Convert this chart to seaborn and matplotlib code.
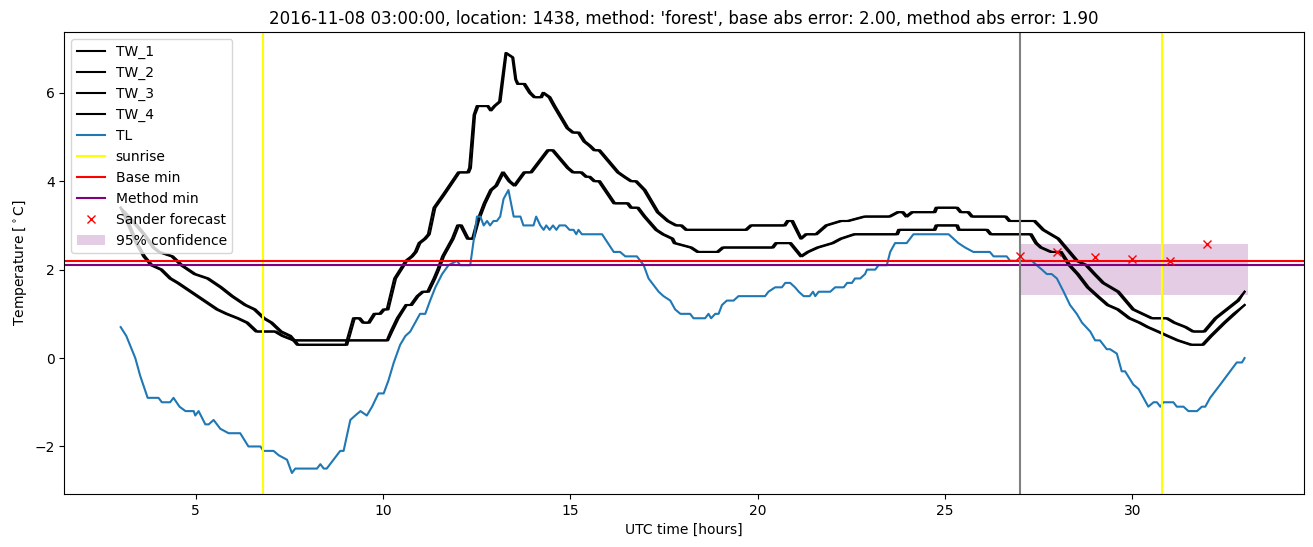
import matplotlib
matplotlib.use("Agg")
import matplotlib.pyplot as plt
import seaborn as sns

# ---------------- data ----------------
# upper pair (TW_1, TW_2)
tw_upper_v = [3.4, 3.1, 2.8, 2.5, 2.4, 2.3, 2.1, 1.9, 1.8, 1.6, 1.4, 1.2, 1.1, 0.9, 0.8, 0.6, 0.5, 0.3,
              0.3, 0.9, 0.9, 0.8, 0.8, 1.0, 1.0, 1.1, 1.1, 1.8, 2.0, 2.2, 2.3, 2.4, 2.6, 2.7, 2.8, 3.4,
              3.7, 4.2, 4.2, 4.3, 5.5, 5.7, 5.7, 5.6, 5.7, 5.8, 6.9, 6.8, 6.3, 6.2, 6.2, 6.0, 5.9, 5.9,
              6.0, 5.9, 5.7, 5.2, 5.1, 5.1, 4.9, 4.8, 4.7, 4.7, 4.2, 4.1, 4.0, 4.0, 3.8, 3.3, 3.1, 3.0,
              3.0, 2.9, 2.9, 3.0, 3.0, 3.1, 3.1, 2.7, 2.8, 2.8, 3.0, 3.1, 3.1, 3.2, 3.2, 3.3, 3.3, 3.2,
              3.3, 3.3, 3.4, 3.4, 3.3, 3.3, 3.2, 3.2, 3.1, 3.1, 2.9, 2.8, 2.7, 2.4, 2.2, 2.1, 1.9, 1.7,
              1.6, 1.5, 1.3, 1.1, 1.0, 0.9, 0.9, 0.8, 0.7, 0.6, 0.6, 0.9, 1.1, 1.3, 1.5]
tw1_t = [3.0, 3.3, 3.6, 3.85, 4.0, 4.35, 4.6, 4.95, 5.3, 5.65, 5.95, 6.3, 6.55, 6.8, 7.0, 7.25, 7.5, 7.7,
         9.0, 9.2, 9.35, 9.45, 9.6, 9.75, 9.9, 10.0, 10.1, 10.3, 10.45, 10.6, 10.75, 10.85, 10.95, 11.1, 11.2, 11.35,
         11.6, 12.0, 12.25, 12.3, 12.42, 12.5, 12.78, 12.86, 12.96, 13.1, 13.27, 13.45, 13.53, 13.58, 13.75, 13.9, 14.02, 14.2,
         14.26, 14.42, 14.55, 14.9, 15.05, 15.2, 15.35, 15.5, 15.62, 15.75, 16.25, 16.42, 16.6, 16.73, 16.96, 17.31, 17.58, 17.8,
         17.94, 18.07, 19.67, 19.8, 20.7, 20.78, 20.9, 21.14, 21.27, 21.54, 21.81, 22.2, 22.39, 22.83, 23.5, 23.72, 23.85, 23.95,
         24.1, 24.7, 24.75, 25.3, 25.4, 25.6, 25.7, 26.6, 26.7, 27.37, 27.6, 27.8, 28.0, 28.3, 28.5, 28.75, 28.97, 29.2,
         29.4, 29.6, 29.8, 30.0, 30.25, 30.5, 30.9, 31.1, 31.4, 31.6, 31.9, 32.2, 32.5, 32.8, 33.0]
tw2_t = [3.0, 3.35, 3.65, 3.9, 4.05, 4.4, 4.65, 5.0, 5.35, 5.7, 6.0, 6.35, 6.6, 6.85, 7.05, 7.3, 7.55, 7.75,
         9.05, 9.25, 9.4, 9.5, 9.65, 9.8, 9.95, 10.05, 10.15, 10.35, 10.5, 10.65, 10.8, 10.9, 11.0, 11.15, 11.25, 11.4,
         11.65, 12.05, 12.3, 12.35, 12.46, 12.55, 12.82, 12.9, 13.0, 13.14, 13.3, 13.48, 13.56, 13.62, 13.8, 13.95, 14.07, 14.25,
         14.3, 14.47, 14.6, 14.95, 15.1, 15.25, 15.4, 15.55, 15.67, 15.8, 16.3, 16.47, 16.65, 16.78, 17.01, 17.36, 17.63, 17.85,
         17.99, 18.12, 19.72, 19.85, 20.75, 20.83, 20.95, 21.18, 21.32, 21.59, 21.86, 22.25, 22.44, 22.88, 23.55, 23.77, 23.9, 24.0,
         24.15, 24.75, 24.8, 25.35, 25.45, 25.65, 25.75, 26.65, 26.75, 27.42, 27.65, 27.85, 28.05, 28.35, 28.55, 28.8, 29.02, 29.25,
         29.45, 29.65, 29.85, 30.05, 30.3, 30.55, 30.95, 31.15, 31.45, 31.65, 31.95, 32.25, 32.55, 32.85, 33.0]

# lower pair (TW_3, TW_4)
tw_lower_v = [3.4, 3.0, 2.6, 2.3, 2.1, 2.0, 1.8, 1.7, 1.5, 1.3, 1.1, 1.0, 0.9, 0.8, 0.6, 0.6, 0.5, 0.4,
              0.4, 0.6, 0.9, 1.2, 1.2, 1.4, 1.5, 1.5, 1.8, 2.0, 2.3, 2.5, 2.7, 3.0, 3.0, 2.7, 2.7, 3.1,
              3.5, 3.8, 3.9, 4.2, 4.0, 3.9, 4.2, 4.2, 4.7, 4.7, 4.3, 4.2, 4.2, 4.1, 4.1, 4.0, 4.0, 3.5,
              3.5, 3.4, 3.4, 3.2, 2.9, 2.8, 2.7, 2.6, 2.5, 2.4, 2.4, 2.5, 2.5, 2.6, 2.6, 2.3, 2.4, 2.5,
              2.6, 2.7, 2.8, 2.8, 2.9, 2.9, 3.0, 3.0, 2.9, 2.9, 2.8, 2.8, 2.6, 2.5, 2.4, 2.4, 2.1, 1.9,
              1.6, 1.4, 1.2, 1.1, 0.9, 0.8, 0.7, 0.6, 0.5, 0.4, 0.3, 0.3, 0.5, 0.8, 1.0, 1.2]
tw3_t = [3.0, 3.2, 3.4, 3.6, 3.8, 4.06, 4.3, 4.5, 4.85, 5.2, 5.55, 5.8, 6.1, 6.35, 6.6, 7.1, 7.3, 7.6,
         10.1, 10.2, 10.37, 10.6, 10.73, 10.9, 11.04, 11.18, 11.35, 11.45, 11.58, 11.71, 11.84, 11.98, 12.06, 12.24, 12.38, 12.51,
         12.69, 12.86, 13.0, 13.18, 13.35, 13.49, 13.75, 13.93, 14.38, 14.51, 14.91, 15.05, 15.27, 15.4, 15.49, 15.62, 15.75, 16.15,
         16.51, 16.6, 16.78, 16.96, 17.27, 17.45, 17.7, 17.76, 18.2, 18.38, 18.91, 19.05, 20.38, 20.47, 20.85, 21.14, 21.32, 21.58,
         21.98, 22.2, 22.56, 23.7, 23.75, 24.7, 24.75, 25.3, 25.35, 26.1, 26.2, 27.27, 27.41, 27.54, 27.81, 28.07, 28.3, 28.52,
         28.79, 29.05, 29.32, 29.59, 29.9, 30.17, 30.39, 30.66, 30.92, 31.19, 31.55, 31.86, 32.08, 32.44, 32.7, 33.0]
tw4_t = [3.0, 3.25, 3.45, 3.65, 3.85, 4.11, 4.35, 4.55, 4.9, 5.25, 5.6, 5.85, 6.15, 6.4, 6.65, 7.15, 7.35, 7.65,
         10.14, 10.25, 10.42, 10.64, 10.78, 10.95, 11.09, 11.23, 11.4, 11.5, 11.63, 11.76, 11.89, 12.03, 12.11, 12.29, 12.43, 12.56,
         12.74, 12.91, 13.05, 13.23, 13.4, 13.54, 13.8, 13.98, 14.43, 14.56, 14.96, 15.1, 15.32, 15.45, 15.54, 15.67, 15.8, 16.2,
         16.56, 16.65, 16.83, 17.01, 17.32, 17.5, 17.75, 17.81, 18.25, 18.43, 18.96, 19.1, 20.43, 20.52, 20.9, 21.19, 21.37, 21.63,
         22.03, 22.25, 22.61, 23.75, 23.8, 24.75, 24.8, 25.35, 25.4, 26.15, 26.25, 27.32, 27.46, 27.59, 27.86, 28.12, 28.35, 28.57,
         28.84, 29.1, 29.37, 29.64, 29.95, 30.22, 30.44, 30.71, 30.97, 31.24, 31.6, 31.91, 32.13, 32.49, 32.75, 33.0]

# air temperature TL
tl_t = [3.0, 3.15, 3.39, 3.52, 3.72, 4.01, 4.1, 4.32, 4.41, 4.57, 4.73, 4.95, 4.99, 5.08, 5.26, 5.35, 5.48, 5.66,
        5.88, 6.19, 6.41, 6.73, 6.81, 7.08, 7.22, 7.44, 7.57, 7.66, 8.24, 8.33, 8.42, 8.5, 8.86, 8.95, 9.13, 9.26,
        9.4, 9.57, 9.71, 9.88, 10.02, 10.15, 10.29, 10.46, 10.6, 10.73, 10.86, 10.99, 11.13, 11.26, 11.4, 11.58, 11.75, 11.98,
        12.06, 12.33, 12.51, 12.6, 12.69, 12.78, 12.86, 12.95, 13.04, 13.13, 13.22, 13.35, 13.49, 13.67, 13.75, 14.02, 14.09, 14.2,
        14.29, 14.36, 14.45, 14.54, 14.63, 14.71, 14.87, 14.98, 15.09, 15.16, 15.22, 15.31, 15.85, 16.16, 16.33, 16.47, 16.78, 16.87,
        16.96, 17.09, 17.36, 17.49, 17.67, 17.8, 17.94, 18.2, 18.29, 18.6, 18.69, 18.76, 18.87, 18.96, 19.05, 19.18, 19.36, 19.49,
        20.2, 20.29, 20.47, 20.65, 20.74, 20.87, 21.0, 21.1, 21.23, 21.39, 21.48, 21.54, 21.63, 21.94, 22.07, 22.3, 22.39, 22.52,
        22.6, 22.74, 22.87, 22.92, 23.14, 23.23, 23.45, 23.54, 23.67, 23.98, 24.16, 25.1, 25.23, 25.36, 25.54, 25.76, 26.2, 26.3,
        26.65, 26.74, 27.32, 27.45, 27.59, 27.72, 27.85, 27.99, 28.17, 28.34, 28.52, 28.66, 28.88, 29.01, 29.14, 29.32, 29.41, 29.59,
        29.72, 29.81, 30.03, 30.17, 30.3, 30.43, 30.57, 30.66, 30.75, 30.83, 31.1, 31.19, 31.37, 31.5, 31.73, 31.86, 31.95, 32.08,
        32.35, 32.7, 32.79, 32.93, 33.0]
tl_v = [0.7, 0.5, 0.0, -0.4, -0.9, -0.9, -1.0, -1.0, -0.9, -1.1, -1.2, -1.2, -1.3, -1.2, -1.5, -1.5, -1.4, -1.6,
        -1.7, -1.7, -2.0, -2.0, -2.1, -2.1, -2.2, -2.3, -2.6, -2.5, -2.5, -2.4, -2.5, -2.5, -2.1, -2.1, -1.4, -1.3,
        -1.2, -1.3, -1.1, -0.8, -0.8, -0.5, -0.1, 0.3, 0.5, 0.6, 0.8, 1.0, 1.0, 1.3, 1.6, 1.9, 2.1, 2.2,
        2.1, 2.1, 3.2, 3.2, 3.0, 3.1, 3.0, 3.1, 3.1, 3.2, 3.6, 3.8, 3.2, 3.2, 3.0, 3.0, 3.2, 3.0,
        2.9, 3.0, 2.9, 3.0, 2.9, 3.0, 3.0, 2.9, 2.9, 2.8, 2.9, 2.8, 2.8, 2.4, 2.4, 2.3, 2.3, 2.2,
        2.1, 1.8, 1.5, 1.4, 1.3, 1.1, 1.0, 1.0, 0.9, 0.9, 1.0, 0.9, 1.0, 1.0, 1.2, 1.3, 1.3, 1.4,
        1.4, 1.5, 1.6, 1.6, 1.7, 1.7, 1.6, 1.5, 1.4, 1.4, 1.5, 1.4, 1.5, 1.5, 1.6, 1.6, 1.7, 1.7,
        1.8, 1.8, 1.9, 2.0, 2.0, 2.1, 2.1, 2.4, 2.6, 2.6, 2.8, 2.8, 2.7, 2.6, 2.5, 2.4, 2.4, 2.3,
        2.3, 2.2, 2.2, 2.1, 2.0, 1.9, 1.9, 1.8, 1.5, 1.2, 1.0, 0.8, 0.6, 0.4, 0.4, 0.2, 0.2, 0.1,
        -0.3, -0.3, -0.6, -0.7, -0.9, -1.1, -1.0, -1.0, -1.1, -1.0, -1.0, -1.1, -1.1, -1.2, -1.2, -1.1, -1.1, -0.9,
        -0.6, -0.2, -0.1, -0.1, 0.0]

sunrise_t = [6.8, 30.8]
base_min = 2.2
method_min = 2.1
forecast_start = 27.0
sander_t = [27.0, 28.0, 29.0, 30.0, 31.0, 32.0]
sander_v = [2.3, 2.4, 2.28, 2.23, 2.2, 2.58]
conf_t = [27.0, 33.08]
conf_low = [1.42, 1.42]
conf_high = [2.59, 2.59]

title = "2016-11-08 03:00:00, location: 1438, method: 'forest', base abs error: 2.00, method abs error: 1.90"

# ---------------- plot ----------------
fig = plt.figure(figsize=(13.13, 5.47), dpi=100)
ax = fig.add_subplot(111)
fig.subplots_adjust(left=0.049, right=0.9931, top=0.9415, bottom=0.0969)

series = [("TW_1", tw1_t, tw_upper_v), ("TW_2", tw2_t, tw_upper_v),
          ("TW_3", tw3_t, tw_lower_v), ("TW_4", tw4_t, tw_lower_v)]
for name, t, v in series:
    sns.lineplot(x=t, y=v, ax=ax, color="black", label=name, estimator=None, sort=False)
sns.lineplot(x=tl_t, y=tl_v, ax=ax, color="#1f77b4", label="TL", estimator=None, sort=False)

for i, s in enumerate(sunrise_t):
    ax.axvline(s, color="yellow", label="sunrise" if i == 0 else None)
ax.axhline(base_min, color="red", label="Base min")
ax.axhline(method_min, color="purple", label="Method min")
ax.axvline(forecast_start, color="gray")
ax.plot(sander_t, sander_v, "x", color="red", label="Sander forecast")
ax.fill_between(conf_t, conf_low, conf_high, color="purple", alpha=0.2, linewidth=0, label="95% confidence")

ax.set_title(title)
ax.set_xlabel("UTC time [hours]")
ax.set_ylabel(r"Temperature [$^\circ$C]")
ax.legend(loc="upper left")

fig.savefig("out.png", dpi=100)
